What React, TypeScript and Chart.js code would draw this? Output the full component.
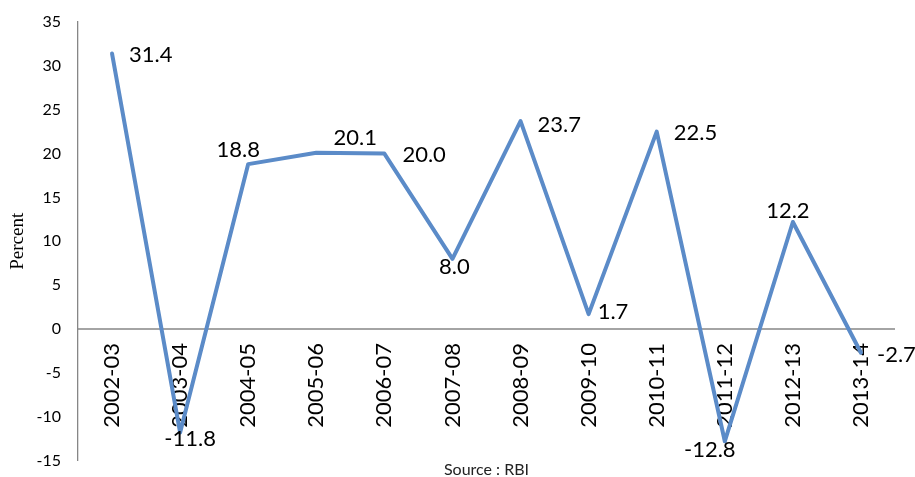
import React, { useEffect, useRef } from "react";
import { Chart, registerables } from "chart.js";

Chart.register(...registerables);

const categories = [
  "2002-03", "2003-04", "2004-05", "2005-06", "2006-07", "2007-08",
  "2008-09", "2009-10", "2010-11", "2011-12", "2012-13", "2013-14",
];
const values = [31.4, -11.8, 18.8, 20.1, 20.0, 8.0, 23.7, 1.7, 22.5, -12.8, 12.2, -2.7];
const yMin = -15;
const yMax = 35;
const yStep = 5;
const yTitle = "Percent";
const sourceText = "Source : RBI";

// label placement (dx, dy, align) relative to each point
const labelPlacement: [number, number, CanvasTextAlign][] = [
  [17, 1, "left"],
  [10, 6, "center"],
  [-10, -14, "center"],
  [39, -15, "center"],
  [18, 1, "left"],
  [2, 8, "center"],
  [17, 4, "left"],
  [9, -2, "left"],
  [17, 1, "left"],
  [-15, 9, "center"],
  [-5, -11, "center"],
  [16, 2, "left"],
];

const FONT = "Lato, 'Open Sans', sans-serif";

const labelPlugin = {
  id: "customLabels",
  beforeDatasetsDraw(chart: any) {
    const ctx = chart.ctx as CanvasRenderingContext2D;
    const area = chart.chartArea;
    const y0 = chart.scales.y.getPixelForValue(0);
    ctx.save();
    ctx.strokeStyle = "#868686";
    ctx.lineWidth = 1.3;
    ctx.beginPath();
    ctx.moveTo(area.left, y0);
    ctx.lineTo(area.right, y0);
    ctx.stroke();
    ctx.restore();
  },
  afterDatasetsDraw(chart: any) {
    const ctx = chart.ctx as CanvasRenderingContext2D;
    const meta = chart.getDatasetMeta(0);
    const area = chart.chartArea;
    ctx.save();
    ctx.fillStyle = "#000";
    ctx.textBaseline = "middle";
    ctx.font = `22px ${FONT}`;
    meta.data.forEach((pt: any, i: number) => {
      const [dx, dy, align] = labelPlacement[i];
      ctx.textAlign = align;
      ctx.fillText(values[i].toFixed(1), pt.x + dx, pt.y + dy);
    });
    // source note
    ctx.font = `16px ${FONT}`;
    ctx.fillStyle = "#222";
    ctx.textAlign = "center";
    ctx.fillText(sourceText, (area.left + area.right) / 2, 470);
    // y title
    ctx.font = "19px 'Liberation Serif', 'Times New Roman', serif";
    ctx.fillStyle = "#000";
    ctx.translate(18, (area.top + area.bottom) / 2);
    ctx.rotate(-Math.PI / 2);
    ctx.fillText(yTitle, 0, 0);
    ctx.restore();
  },
};

export default function App() {
  const ref = useRef<HTMLCanvasElement | null>(null);
  useEffect(() => {
    if (!ref.current) return;
    const chart = new Chart(ref.current, {
      type: "line",
      data: {
        labels: categories,
        datasets: [
          {
            data: values,
            borderColor: "#5b8bc8",
            borderWidth: 4,
            borderJoinStyle: "round",
            borderCapStyle: "round",
            pointRadius: 0,
            tension: 0,
            fill: false,
          },
        ],
      },
      options: {
        responsive: false,
        animation: false,
        layout: { padding: { left: 0, right: 20, top: 22, bottom: 16.4 } },
        plugins: {
          legend: { display: false },
          tooltip: { enabled: false },
        },
        scales: {
          x: {
            type: "category",
            position: { y: 0 } as any,
            offset: true,
            grid: { display: false, drawTicks: false },
            border: { display: false },
            ticks: {
              autoSkip: false,
              minRotation: 90,
              maxRotation: 90,
              padding: 14,
              color: "#000",
              font: { family: FONT, size: 22 },
            },
          },
          y: {
            min: yMin,
            max: yMax,
            grid: { display: false, drawTicks: false },
            border: { display: true, color: "#868686", width: 1.3 },
            ticks: {
              stepSize: yStep,
              padding: 17,
              color: "#000",
              font: { family: FONT, size: 16 },
            },
            afterFit: (scale: any) => {
              scale.width = 78;
              scale.paddingTop = 0;
              scale.paddingBottom = 0;
            },
          },
        },
      },
      plugins: [labelPlugin],
    });
    if ((document as any).fonts) {
      (document as any).fonts.load(`22px Lato`).then(() => chart.update());
    }
    return () => chart.destroy();
  }, []);
  return (
    <div style={{ position: "fixed", left: 0, top: 0, width: 915, height: 477, background: "#fff" }}>
      <canvas ref={ref} width={915} height={477} style={{ display: "block" }} />
    </div>
  );
}
